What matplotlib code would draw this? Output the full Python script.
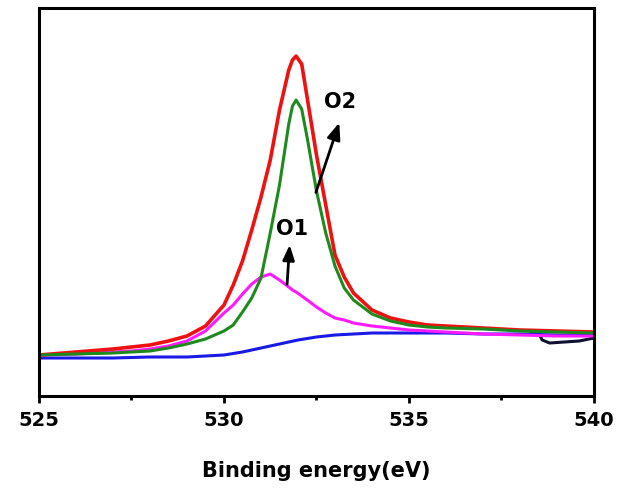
import numpy as np
import matplotlib.pyplot as plt

# binding energy grid (eV) and intensities (a.u.)
energy = [525, 526, 527, 527.5, 528, 528.5, 529, 529.5, 530, 530.25, 530.5, 530.75,
          531, 531.25, 531.5, 531.75, 531.85, 531.95, 532.1, 532.25, 532.5, 532.75,
          533, 533.25, 533.5, 534, 534.5, 535, 535.5, 536, 537, 538, 539, 540]

envelope = [41, 44, 47, 49, 51, 55, 60, 70, 91, 111, 135, 166,
            199, 236, 286, 326, 336, 340, 332, 298, 241, 191,
            141, 119, 103, 86, 78, 74, 71, 70, 68, 66, 65, 64]

o2_peak = [41, 42, 43, 44, 45, 48, 52, 57, 65, 71, 84, 98,
           118, 163, 211, 272, 290, 296, 287, 258, 205, 163,
           130, 108, 96, 82, 75, 71, 69, 68, 67, 65, 64, 63]

o1_peak = [41, 42, 44, 45, 47, 50, 55, 65, 83, 91, 102, 112,
           119, 122, 116, 109, 106, 104, 100, 96, 89, 83,
           78, 76, 73, 70, 68, 66, 65, 64, 62, 61, 60, 60]

bg_energy = [525, 527, 528, 529, 530, 530.5, 531, 531.5, 532, 532.5, 533, 534,
             535, 536, 537, 538, 539, 540]
background = [38, 38, 39, 39, 41, 44, 48, 52, 56, 59, 61, 63,
              63, 63, 62, 62, 61, 61]

raw_energy = [538.3, 538.5, 538.6, 538.8, 539.2, 539.6, 540]
raw = [64, 63, 56, 53, 54, 55, 58]

fig = plt.figure(figsize=(6.19, 4.91), dpi=100)
ax = fig.add_axes([0.063, 0.1935, 0.8966, 0.79])

ax.plot(raw_energy, raw, color='#111133', lw=2.2)
ax.plot(bg_energy, background, color='#1a1ae6', lw=2.2)
ax.plot(energy, o1_peak, color='#ff1aff', lw=2.2)
ax.plot(energy, envelope, color='#ee1111', lw=2.6)
ax.plot(energy, o2_peak, color='#1e8a1e', lw=2.2)

ax.annotate('', xy=(531.78, 154), xytext=(531.70, 109),
            arrowprops=dict(arrowstyle='-|>,head_length=0.9,head_width=0.35',
                            color='black', lw=2))
ax.annotate('', xy=(533.14, 276), xytext=(532.46, 201),
            arrowprops=dict(arrowstyle='-|>,head_length=1.0,head_width=0.4',
                            color='black', lw=2))
ax.text(531.84, 167, 'O1', ha='center', va='center', fontsize=15, fontweight='bold')
ax.text(533.14, 294, 'O2', ha='center', va='center', fontsize=15, fontweight='bold')

ax.set_xlim(525, 540)
ax.set_ylim(0, 388)
ax.set_xticks([525, 530, 535, 540])
ax.set_xticks([527.5, 532.5, 537.5], minor=True)
ax.set_yticks([])
ax.tick_params(axis='x', which='major', direction='out', length=5, width=2,
               pad=6, labelsize=14)
ax.tick_params(axis='x', which='minor', direction='out', length=3, width=2)
for lab in ax.get_xticklabels():
    lab.set_fontweight('bold')
for sp in ax.spines.values():
    sp.set_linewidth(2.2)

ax.set_xlabel('Binding energy(eV)', fontsize=15, fontweight='bold', labelpad=22)

fig.savefig('out.png', dpi=100)
